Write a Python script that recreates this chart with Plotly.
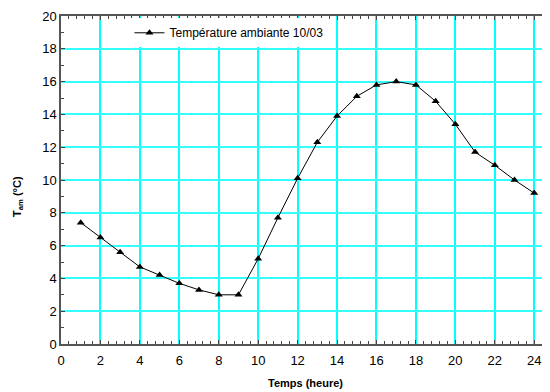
import plotly.graph_objects as go

hours = list(range(1, 25))
temps = [7.4, 6.5, 5.6, 4.7, 4.2, 3.7, 3.3, 3.0, 3.0, 5.2, 7.7, 10.1,
         12.3, 13.9, 15.1, 15.8, 16.0, 15.8, 14.8, 13.4, 11.7, 10.9, 10.0, 9.2]
series_name = "Température ambiante 10/03"

fig = go.Figure()
fig.add_trace(go.Scatter(
    x=hours, y=temps, mode="lines+markers", name=series_name,
    line=dict(color="black", width=1),
    marker=dict(symbol="triangle-up", size=7, color="black"),
))

font = "Liberation Sans, Arial, sans-serif"
# page body has an 8px margin, so the figure is sized/offset to compensate
fig.update_layout(
    width=542, height=384,
    margin=dict(l=53, r=0, t=8, b=48),
    paper_bgcolor="white", plot_bgcolor="white",
    font=dict(family=font, size=13, color="black"),
    showlegend=True,
    legend=dict(x=0.14, y=0.993, xanchor="left", yanchor="top",
                bgcolor="white", borderwidth=0, font=dict(size=12),
                itemwidth=30),
    xaxis=dict(range=[0, 24.8], dtick=2, tick0=0, automargin=False,
               showgrid=True, gridcolor="#00FFFF", gridwidth=1.5,
               ticks="inside", ticklen=4, tickcolor="#444",
               ticklabelstandoff=4,
               showline=True, linecolor="#555", linewidth=1.5, mirror="allticks",
               minor=dict(dtick=0.4, ticks="inside", ticklen=3, tickcolor="#444", showgrid=False),
               zeroline=False,
               title=dict(text="<b>Temps (heure)</b>", font=dict(size=11), standoff=12)),
    yaxis=dict(range=[0, 20], dtick=2, tick0=0, automargin=False,
               showgrid=True, gridcolor="#33FFFF", gridwidth=1.5,
               ticks="inside", ticklen=4, tickcolor="#444",
               showline=True, linecolor="#555", linewidth=1.5,
               minor=dict(dtick=1, ticks="inside", ticklen=3, tickcolor="#444", showgrid=False),
               zeroline=False),
    annotations=[dict(text="<b>T<sub>am</sub> (°C)</b>", textangle=-90,
                      xref="paper", yref="paper", x=0, y=0.5,
                      xanchor="center", yanchor="middle",
                      xshift=-43, yshift=-17, showarrow=False,
                      font=dict(size=11))],
)

fig.write_html("out.html")
